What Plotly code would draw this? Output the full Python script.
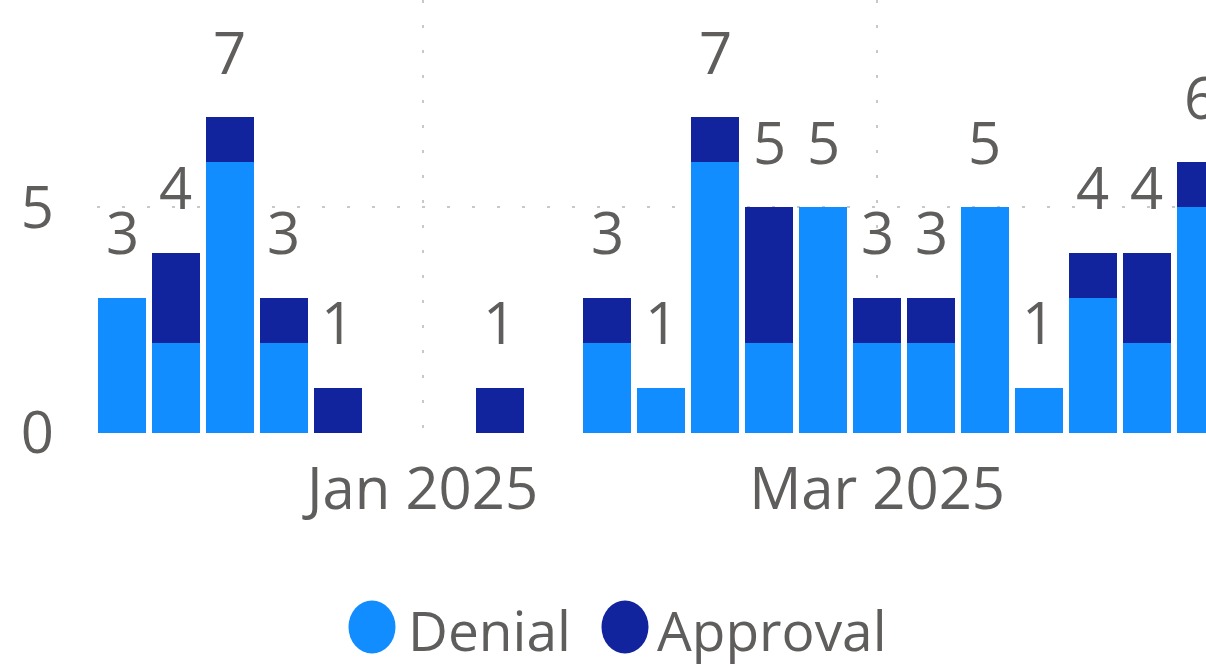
import plotly.graph_objects as go

# ---- data ----
weeks = ["2024-11-23", "2024-11-30", "2024-12-07", "2024-12-14", "2024-12-21",
         "2024-12-28", "2025-01-04", "2025-01-11", "2025-01-18", "2025-01-25",
         "2025-02-01", "2025-02-08", "2025-02-15", "2025-02-22", "2025-03-01",
         "2025-03-08", "2025-03-15", "2025-03-22", "2025-03-29", "2025-04-05",
         "2025-04-12"]
denial = [3, 2, 6, 2, 0, 0, 0, 0, 0, 2, 1, 6, 2, 5, 2, 2, 5, 1, 3, 2, 5]
approval = [0, 2, 1, 1, 1, 0, 0, 1, 0, 1, 0, 1, 3, 0, 1, 1, 0, 0, 1, 2, 1]
totals = [d + a for d, a in zip(denial, approval)]
series_names = ["Denial", "Approval"]
x_tick_vals = ["2025-01-01", "2025-03-01"]
x_tick_text = ["Jan 2025", "Mar 2025"]
y_tick_vals = [0, 5]

# ---- style ----
C_DENIAL = "#118DFF"
C_APPROVAL = "#12239E"
TXT = "#605E5C"
FONT = "Open Sans"
GRID = "#C8C8C8"
DAY_MS = 86400000
BAR_W = 6.23 * DAY_MS
W, H = 1206, 666
ML, MR, MT, MB = 97, 0, 0, 233
PW, PH = W - ML - MR, H - MT - MB


def px_to_paper_x(px):
    return (px - ML) / PW


def px_to_paper_y(py):
    return (H - MB - py) / PH


fig = go.Figure()
fig.add_trace(go.Bar(x=weeks, y=denial, name=series_names[0], marker_color=C_DENIAL,
                     width=BAR_W, marker_line_width=0))
fig.add_trace(go.Bar(x=weeks, y=approval, name=series_names[1], marker_color=C_APPROVAL,
                     width=BAR_W, marker_line_width=0))

annotations = []
for w, t in zip(weeks, totals):
    if t > 0:
        annotations.append(dict(x=w, y=t, xref="x", yref="y", text=str(t),
                                showarrow=False, yanchor="middle", yshift=66,
                                font=dict(family=FONT, size=58, color=TXT)))

# legend (Power BI style: circle + label below the axis)
legend_items = [(series_names[0], C_DENIAL, 372, 406), (series_names[1], C_APPROVAL, 625, 655)]
shapes = []
for name, col, cx, tx in legend_items:
    shapes.append(dict(type="circle", xref="paper", yref="paper",
                       xsizemode="pixel", ysizemode="pixel",
                       xanchor=px_to_paper_x(cx), yanchor=px_to_paper_y(627),
                       x0=-23.5, x1=23.5, y0=-26.5, y1=26.5,
                       fillcolor=col, line=dict(width=0), layer="above"))
    annotations.append(dict(x=px_to_paper_x(tx), y=px_to_paper_y(629), xref="paper", yref="paper",
                            xanchor="left", yanchor="middle", text=name, showarrow=False,
                            font=dict(family=FONT, size=55, color=TXT)))

fig.update_layout(
    width=W, height=H,
    margin=dict(l=ML, r=MR, t=MT, b=MB, autoexpand=False),
    paper_bgcolor="white", plot_bgcolor="white",
    barmode="stack",
    font=dict(family=FONT, size=58, color=TXT),
    annotations=annotations,
    shapes=shapes,
    showlegend=False,
    xaxis=dict(type="date", range=["2024-11-19 18:06", "2025-04-12 16:34"],
               tickvals=x_tick_vals, ticktext=x_tick_text,
               showgrid=True, gridcolor=GRID, gridwidth=2, griddash="3px,22px",
               zeroline=False, showline=False, ticks="", automargin=False,
               tickfont=dict(family=FONT, size=58, color=TXT),
               ticklabelstandoff=17),
    yaxis=dict(range=[0, 9.6], tickvals=y_tick_vals,
               showgrid=True, gridcolor=GRID, gridwidth=2, griddash="3px,22px",
               zeroline=False, showline=False, ticks="", automargin=False,
               tickfont=dict(family=FONT, size=58, color=TXT),
               ticklabelstandoff=42),
)

fig.write_html("out.html", config={"displayModeBar": False},
               post_script="document.body.style.margin='0';document.body.style.overflow='hidden';")
